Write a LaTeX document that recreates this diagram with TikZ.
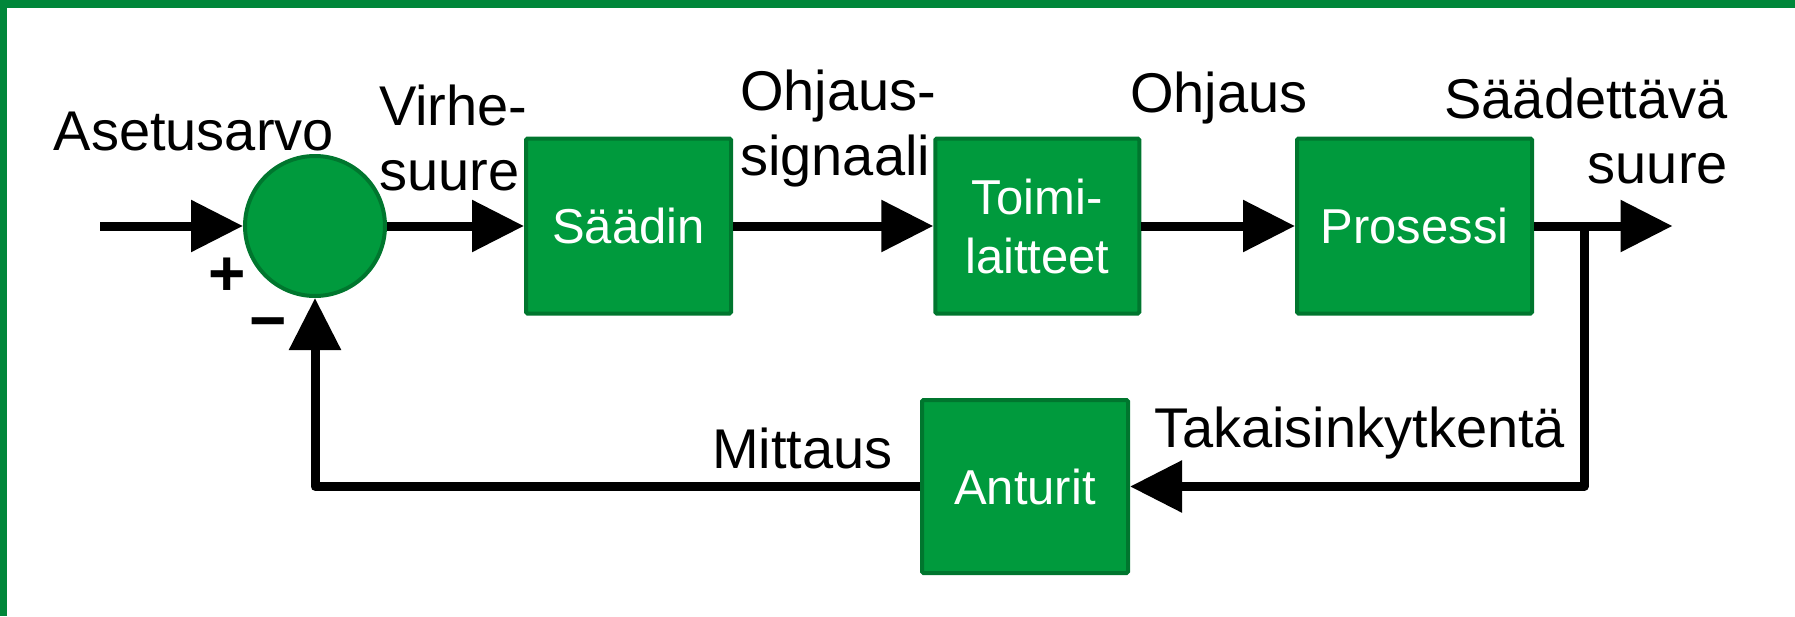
\documentclass[tikz,border=0pt]{standalone}
\usepackage{fontspec}
\setmainfont{Liberation Sans}
\usetikzlibrary{arrows.meta}
\definecolor{boxgreen}{RGB}{0,154,61}
\definecolor{edgegreen}{RGB}{0,118,46}
\definecolor{framegreen}{RGB}{0,135,58}
\begin{document}
\begin{tikzpicture}[x=1pt,y=-1pt,
  blockbox/.style={draw=edgegreen, fill=boxgreen, line width=4pt, text=white,
    font=\fontsize{49}{59}\selectfont, align=center, inner sep=0pt, rounded corners=1.5pt},
  sig/.style={line width=9pt, line join=round, -{Triangle[length=52pt,width=50pt]}},
  lab/.style={font=\fontsize{56}{65}\selectfont, inner sep=0pt},
  sign/.style={font=\fontsize{64}{64}\selectfont\bfseries, inner sep=0pt}]
\useasboundingbox (0,0) rectangle (1795,616);
\fill[framegreen] (0,0) rectangle (1795,8);
\fill[framegreen] (0,0) rectangle (7,616);

\node[circle, draw=edgegreen, fill=boxgreen, line width=4pt, minimum size=140pt, inner sep=0pt] (sum) at (315,226) {};
\node[blockbox, minimum width=205pt, minimum height=175pt] (saadin) at (628.5,226) {Säädin};
\node[blockbox, minimum width=204pt, minimum height=175pt] (toimi) at (1037.3,226) {Toimi-\\laitteet};
\node[blockbox, minimum width=235pt, minimum height=175pt] (prosessi) at (1414.5,226) {Prosessi};
\node[blockbox, minimum width=206pt, minimum height=173pt] (anturit) at (1025,486.5) {Anturit};

\coordinate (in) at (100,226);
\coordinate (out) at (1672.5,226);
\coordinate (br) at (1584,226);

\draw[sig] (in) -- (sum);
\draw[sig] (sum) -- (saadin);
\draw[sig] (saadin) -- (toimi);
\draw[sig] (toimi) -- (prosessi);
\draw[sig] (prosessi) -- (out);
\draw[sig] (br) |- (anturit.east);
\draw[sig] (anturit.west) -| (sum.south);

\node[lab, anchor=base west] (aset) at (53.6,150) {Asetusarvo};
\node[lab, anchor=base west, align=left] (virhe) at (379,190) {Virhe-\\suure};
\node[lab, anchor=base west, align=left] (ohjs) at (740,175) {Ohjaus-\\signaali};
\node[lab, anchor=base west] (ohj) at (1130,112) {Ohjaus};
\node[lab, anchor=base east, align=right] (saad) at (1728,183) {Säädettävä\\suure};
\node[lab, anchor=base west] (mitt) at (712,468) {Mittaus};
\node[lab, anchor=base west] (taka) at (1154,447) {Takaisinkytkentä};
\node[sign] (plus) at (227,277) {+};
\node[sign] (minus) at (268,330) {−};
\end{tikzpicture}
\end{document}
